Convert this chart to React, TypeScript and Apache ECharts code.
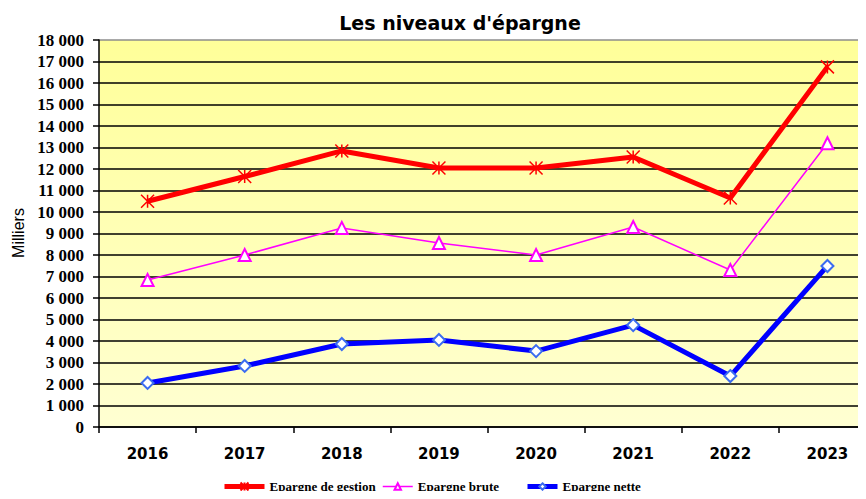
import React, { useEffect, useRef } from "react";
import * as echarts from "echarts";

const years = ["2016", "2017", "2018", "2019", "2020", "2021", "2022", "2023"];
const epargneGestion = [10500, 11650, 12840, 12050, 12050, 12560, 10650, 16750];
const epargneBrute = [6840, 8000, 9260, 8560, 8000, 9300, 7300, 13200];
const epargneNette = [2050, 2840, 3860, 4050, 3530, 4740, 2370, 7490];
const seriesNames = ["Epargne de gestion", "Epargne brute", "Epargne nette"];
const titleText = "Les niveaux d'épargne";
const yAxisName = "Milliers";

const fmt = (v: number) => {
  if (v < 1000) return String(v);
  const th = Math.floor(v / 1000);
  const rest = String(v % 1000).padStart(3, "0");
  return th + " " + rest;
};

export default function App() {
  const ref = useRef<HTMLDivElement>(null);
  useEffect(() => {
    if (!ref.current) return;
    const chart = echarts.init(ref.current, undefined, { renderer: "svg" });
    const splitColors: string[] = [];
    for (let i = 0; i <= 18; i++) splitColors.push(i === 18 ? "#8c8c8c" : "#000000");
    const legendText = {
      fontFamily: "Liberation Serif",
      fontWeight: "bold" as const,
      fontSize: 13,
      color: "#000",
    };
    chart.setOption({
      animation: false,
      backgroundColor: "#ffffff",
      grid: {
        left: 99,
        top: 40,
        right: -10,
        bottom: 72,
        show: true,
        borderWidth: 0,
        outerBoundsMode: "none",
        containLabel: false,
        backgroundColor: new echarts.graphic.LinearGradient(0, 0, 0, 1, [
          { offset: 0, color: "#ffff99" },
          { offset: 1, color: "#ffffd2" },
        ]),
      },
      graphic: [
        {
          type: "text",
          x: 460,
          y: 23,
          style: {
            text: titleText,
            font: "bold 19px 'DejaVu Sans'",
            fill: "#000",
            align: "center",
            verticalAlign: "middle",
          },
        },
        {
          type: "text",
          x: 18,
          y: 233,
          rotation: Math.PI / 2,
          style: {
            text: yAxisName,
            font: "16px 'Liberation Sans'",
            fill: "#000",
            align: "center",
            verticalAlign: "middle",
          },
        },
      ],
      legend: [
        {
          data: [seriesNames[0]],
          left: 222,
          top: 480,
          itemWidth: 40,
          itemHeight: 10,
          padding: 0,
          lineStyle: { width: 5 },
          textStyle: legendText,
        },
        {
          data: [seriesNames[1]],
          left: 382,
          top: 480,
          itemWidth: 30,
          itemHeight: 8,
          padding: 0,
          lineStyle: { width: 1.5 },
          textStyle: legendText,
        },
        {
          data: [seriesNames[2]],
          left: 525,
          top: 480,
          itemWidth: 30,
          itemHeight: 8,
          padding: 0,
          lineStyle: { width: 5 },
          textStyle: legendText,
        },
      ],
      xAxis: {
        type: "category",
        data: years,
        boundaryGap: true,
        axisLine: { lineStyle: { color: "#000", width: 1.5 } },
        axisTick: { show: true, length: 6, lineStyle: { color: "#000", width: 1.5 } },
        axisLabel: {
          margin: 19,
          fontFamily: "DejaVu Sans",
          fontWeight: "bold",
          fontSize: 15,
          color: "#000",
        },
        splitLine: { show: false },
      },
      yAxis: {
        type: "value",
        min: 0,
        max: 18000,
        interval: 1000,
        axisLine: { show: true, lineStyle: { color: "#000", width: 1.5 } },
        axisTick: { show: true, length: 6, lineStyle: { color: "#000", width: 1.5 } },
        axisLabel: {
          margin: 15,
          fontFamily: "Liberation Serif",
          fontWeight: "bold",
          fontSize: 17,
          color: "#000",
          formatter: (v: number) => fmt(v),
        },
        splitLine: { show: true, lineStyle: { color: splitColors, width: 1.5 } },
      },
      series: [
        {
          name: seriesNames[0],
          type: "line",
          data: epargneGestion,
          symbol: "path://M0,0L10,10M10,0L0,10M5,0L5,10",
          symbolSize: 13,
          showAllSymbol: true,
          lineStyle: { color: "#ff0000", width: 5 },
          itemStyle: { color: "#ff0000", borderColor: "#ff0000", borderWidth: 1.5 },
          z: 3,
        },
        {
          name: seriesNames[1],
          type: "line",
          data: epargneBrute,
          symbol: "emptyTriangle",
          symbolSize: 12,
          lineStyle: { color: "#ff00ff", width: 1.5 },
          itemStyle: { color: "#ff00ff", borderColor: "#ff00ff", borderWidth: 1.5 },
          z: 2,
        },
        {
          name: seriesNames[2],
          type: "line",
          data: epargneNette,
          symbol: "emptyDiamond",
          symbolSize: 12,
          lineStyle: { color: "#0000ff", width: 5 },
          itemStyle: { color: "#3b6cf0", borderColor: "#3b6cf0", borderWidth: 1.5 },
          z: 4,
        },
      ],
    });
    return () => chart.dispose();
  }, []);
  return <div ref={ref} style={{ width: 866, height: 499, margin: -8 }} />;
}
